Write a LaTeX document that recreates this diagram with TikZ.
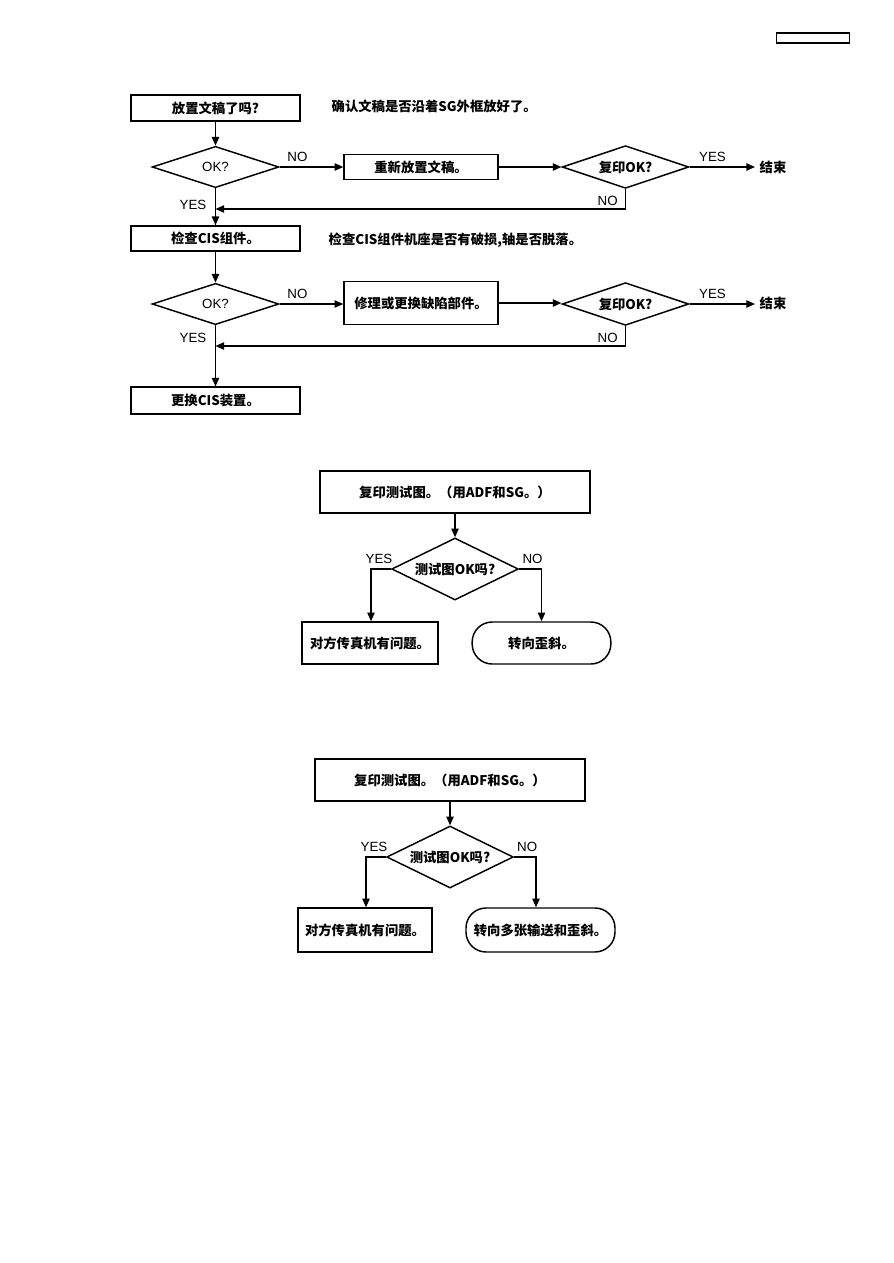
\documentclass[tikz,border=0pt]{standalone}
\usepackage{fontspec}
\setmainfont{Liberation Sans}
\newfontfamily\cjk{Noto Sans CJK SC}
\usetikzlibrary{shapes.geometric,arrows.meta}

\tikzset{
  txt/.style={font=\cjk\bfseries\fontsize{10}{12}\selectfont},
  lbl/.style={font=\fontsize{10}{12}\selectfont},
  proc/.style={draw, line width=1.1pt, txt, inner sep=0pt},
  cond/.style={draw, diamond, aspect=3, line width=1.1pt, inner sep=0pt, txt},
  term/.style={draw, rounded corners=15pt, line width=1.1pt, txt, inner sep=0pt},
  arr/.style={line width=1.1pt, -{Triangle[length=6.5pt,width=5.5pt]}},
  ln/.style={line width=1.1pt}
}

\begin{document}
\begin{tikzpicture}[x=0.75pt, y=-0.75pt]
  \useasboundingbox (0,0) rectangle (893,1263);
  \node[draw, line width=1.1pt, minimum width=55pt, minimum height=7.5pt, inner sep=0pt] (tag) at (813,38) {};

  % first chart
  \node[proc, minimum width=126.75pt, minimum height=19.5pt] (s1) at (215.5,108) {放置文稿了吗?};
  \node[txt, anchor=west] (n1) at (327,106) {确认文稿是否沿着SG外框放好了。};
  \node[cond, minimum width=95pt, minimum height=31pt, font=\fontsize{10}{12}\selectfont] (d1) at (215.5,167) {OK?};
  \node[proc, minimum width=115.5pt, minimum height=19pt] (r1) at (421,167) {重新放置文稿。};
  \node[cond, minimum width=95pt, minimum height=32pt] (c1) at (625.5,167) {复印OK?};
  \node[txt, anchor=west] (e1) at (755,167) {结束};
  \coordinate (j1) at (215.5,209);
  \node[proc, minimum width=126.75pt, minimum height=19pt] (s2) at (215.5,238.5) {检查CIS组件。};
  \node[txt, anchor=west] (n2) at (324,240) {检查CIS组件机座是否有破损,轴是否脱落。};
  \node[cond, minimum width=95pt, minimum height=31pt, font=\fontsize{10}{12}\selectfont] (d2) at (215.5,304) {OK?};
  \node[proc, minimum width=115.5pt, minimum height=32pt] (r2) at (421,303) {修理或更换缺陷部件。};
  \node[cond, minimum width=95pt, minimum height=32pt] (c2) at (625.5,304) {复印OK?};
  \node[txt, anchor=west] (e2) at (755,303) {结束};
  \coordinate (j2) at (215.5,346);
  \node[proc, minimum width=126.75pt, minimum height=20pt] (s3) at (215.5,400.5) {更换CIS装置。};

  \draw[arr] (s1) -- (d1);
  \draw[arr] (d1.east) -- node[lbl, above, pos=0.28]{NO} (d1.east -| r1.west);
  \draw[arr] (r1.east) -- (r1.east -| c1.west);
  \draw[arr] (c1.east) -- node[lbl, above, pos=0.35]{YES} (c1.east -| e1.west);
  \draw[ln] (d1.south) -- node[lbl, left=3pt, pos=0.45]{YES} (s2.north);
  \draw[arr] (c1.south) |- node[lbl, left=2pt, pos=0.3]{NO} (j1);
  \draw[arr] (j1) -- (s2);
  \draw[arr] (s2) -- (d2);
  \draw[arr] (d2.east) -- node[lbl, above, pos=0.28]{NO} (d2.east -| r2.west);
  \draw[arr] (r2.east) -- (r2.east -| c2.west);
  \draw[arr] (c2.east) -- node[lbl, above, pos=0.35]{YES} (c2.east -| e2.west);
  \draw[ln] (d2.south) -- node[lbl, left=3pt, pos=0.2]{YES} (s3.north);
  \draw[arr] (c2.south) |- node[lbl, left=2pt, pos=0.3]{NO} (j2);
  \draw[arr] (j2) -- (s3);

  % second chart
  \node[proc, minimum width=202.5pt, minimum height=31.5pt] (t1) at (455,492) {复印测试图。（用ADF和SG。）};
  \node[cond, minimum width=95pt, minimum height=46.5pt] (q1) at (455,569) {测试图OK吗?};
  \node[proc, minimum width=102pt, minimum height=31.5pt] (y1) at (370,643) {对方传真机有问题。};
  \node[term, minimum width=104pt, minimum height=31.5pt] (g1) at (541.5,643) {转向歪斜。};
  \draw[arr] (t1) -- (q1);
  \draw[arr] (q1.west) -| node[lbl, above, pos=0.3]{YES} (y1.north -| 371,0);
  \draw[arr] (q1.east) -| node[lbl, above, pos=0.3]{NO} (g1.north);

  % third chart
  \node[proc, minimum width=202.5pt, minimum height=31.5pt] (t2) at (450,780) {复印测试图。（用ADF和SG。）};
  \node[cond, minimum width=95pt, minimum height=46.5pt] (q2) at (450,857) {测试图OK吗?};
  \node[proc, minimum width=100.5pt, minimum height=33pt] (y2) at (365,930) {对方传真机有问题。};
  \node[term, minimum width=111.75pt, minimum height=33pt] (g2) at (540.5,930) {转向多张输送和歪斜。};
  \draw[arr] (t2) -- (q2);
  \draw[arr] (q2.west) -| node[lbl, above, pos=0.3]{YES} (y2.north -| 366,0);
  \draw[arr] (q2.east) -| node[lbl, above, pos=0.3]{NO} (g2.north -| 536,0);
\end{tikzpicture}
\end{document}
